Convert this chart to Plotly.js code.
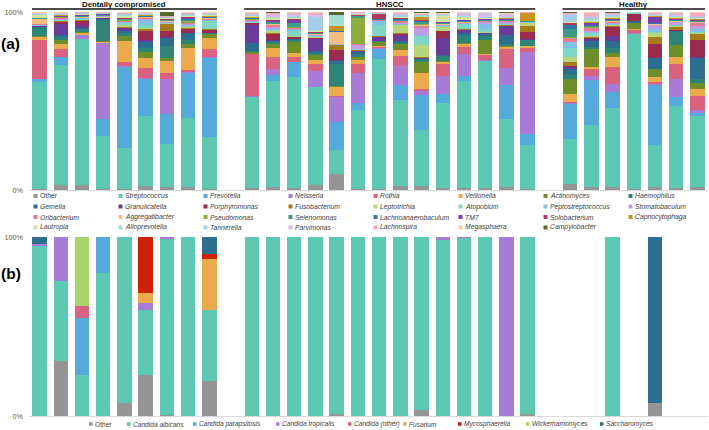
<!DOCTYPE html>
<html><head><meta charset="utf-8">
<script src="https://cdn.plot.ly/plotly-3.0.1.min.js"></script>
<style>html,body{margin:0;padding:0;background:#fff}#chart{width:709px;height:430px}</style>
</head><body><div id="chart"></div>
<script>
// ---------- DATA ----------
const groupDC = ["DC1","DC2","DC3","DC4","DC5","DC6","DC7","DC8","DC9"];
const groupHN = ["HN1","HN2","HN3","HN4","HN5","HN6","HN7","HN8","HN9","HN10","HN11","HN12","HN13","HN14"];
const groupHE = ["HE1","HE2","HE3","HE4","HE5","HE6","HE7"];
const groupNames = ["Dentally compromised","HNSCC","Healthy"];

const bacteriaNames = ["Other","Streptococcus","Prevotella","Neisseria","Rothia","Veillonella","Actinomyces","Haemophilus",
 "Gemella","Granulicatella","Porphyromonas","Fusobacterium","Leptotrichia","Atopobium","Peptostreptococcus","Stomatobaculum",
 "Oribacterium","Aggregatibacter","Pseudomonas","Selenomonas","Lachnoanaerobaculum","TM7","Solobacterium","Capnocytophaga",
 "Lautropia","Alloprevotella","Tannerella","Parvimonas","Lachnospira","Megasphaera","Campylobacter"];

// relative abundance (%) per sample: DC1-9, HN1-14, HE1-7
const bOther          = [0.3,2.8,2.8,0.5,0.5,2.2,1.5,1.9,0.5, 1,1.5,1.2,2.8,9,0.5,0.5,2.2,2.2,1,1,1,1.5,0.5, 3.4,1.9,1.9,0.5,1.9,1,1.9];
const bStreptococcus  = [62,69,84,30,23.6,40,25,39,30, 52,61,65,58,14,46,76,49,32.6,49,63,75,39,26, 27,36.5,45.5,88.8,24.7,48,40.4];
const bPrevotella     = [1.7,4.5,0.3,10,47,21,17,26,45.5, 0.3,3.4,8.4,0.3,16,4,6,9,20,5,2.8,0.3,20,6, 21,26,9,0.2,35.4,5,1.7];
const bNeisseria      = [0,0.5,2,43,0.3,0.3,20,0.3,0.3, 0.2,3.4,0.3,9,14.6,17,0.2,11,2.2,10.7,13,0.3,9.6,48, 0.3,2.8,4.5,0.1,0.2,10.7,1.7];
const bRothia         = [23,4.5,0.3,0.3,2.2,5.6,3,1.1,5, 24,7,2.8,4.5,0.3,5.6,1.1,5.6,1.1,6.7,4,2.8,11,2.2, 1.1,4,10,2.2,1.1,8.4,7.9];
const bVeillonella    = [1.7,2.8,1,0.7,12,6,7.3,12.4,6, 0.5,5,2.2,2.2,5.6,2.2,0.5,3.4,9.6,1.1,1.7,0.8,1.1,1.1, 4.5,1.1,5.6,0.2,3.4,4.5,4];
const bActinomyces    = [0.5,2.2,0.8,0.3,2.8,3.4,1.7,2.8,2.2, 0.8,2.2,6.7,2.8,0.3,1.5,2.2,3.4,6,0.3,0.3,8.4,0.6,0.3, 9,10.7,2.2,3.4,4.5,6.7,3.4];
const bHaemophilus    = [4.5,1.5,1.5,12,2.2,2,6.7,2,0.5, 0.5,1.2,1,1,13,1.2,0.3,0.6,1.7,3.4,5,2,1.2,3.4, 2.8,0.8,2.8,0.2,0.3,7.9,2.2];
const bGemella        = [0.8,1.5,0.8,0.8,1.1,3.5,4.5,4,0.3, 5,0.8,0.5,1.2,1.7,2.2,0.3,0.8,0.3,0.3,1.1,1.5,5,0.3, 3,3.4,4.5,1.1,6,0.3,12.4];
const bGranulicatella = [0.3,6.2,1.5,0.2,1.5,1,0.3,0.3,0.3, 10,0.5,0.3,7.3,0.2,0.3,2.2,3.4,0.3,9.6,1.5,0.3,5,0.2, 1,1.7,2.8,0.1,0.3,0.3,0.3];
const bPorphyromonas  = [0,1.1,2.5,0.2,0.3,5.5,3.4,2.2,1.7, 1,3.4,1,0.6,6,0.3,0.3,1.1,0.3,4,0.5,0.3,0.3,4, 1,0.5,5,4,8.4,0.3,10];
const bFusobacterium  = [0,0.5,0.3,0.1,0.3,1,4,0.5,0.3, 0.2,0.3,0.3,0.2,2.8,0.2,0.1,0.2,0.2,0.2,0.2,0.2,0.2,4, 2.5,0.3,0.5,0.1,4,2,3.4];
const bLeptotrichia   = [0,0.3,0.2,0.1,1.2,0.5,0.3,0.6,0.3, 0.2,1.2,0.4,0.3,0.1,0.2,0.2,4.5,7.3,2.5,0.3,0.3,0.3,1.5, 2.5,0.5,0.5,0.05,2,0.4,0.3];
const bAtopobium      = [0.3,0.3,0.5,0.3,1,1.5,0.3,0.5,4.5, 0.3,0.8,3,0.4,0.2,0.3,6.7,0.4,5,0.3,2.5,2,0.3,0.2, 5.5,2,0.5,0.05,0.8,0.4,0.5];
const bPeptostrep     = [0.3,0.3,0.3,0.2,0.5,3,0.3,0.5,0.3, 0.3,0.6,0.4,0.4,0.2,0.3,2.2,0.4,0.3,0.3,0.3,3,0.3,0.2, 3.5,0.5,0.5,0.05,1.5,0.4,2];
const bStomatobaculum = [0.2,0.3,0.2,0.1,0.3,0.3,0.3,0.5,0.3, 0.5,0.8,0.6,0.4,0.1,2.2,0.2,0.4,4.5,0.3,0.3,1,1,0.1, 0.3,0.8,0.5,0.05,2.5,1.2,1.5];
const bOribacterium   = [0.3,0.6,0.2,0.3,0.4,0.8,0.3,0.5,0.5, 0.5,1.2,0.6,0.3,0.2,0.3,0.2,1,0.8,0.3,0.5,0.3,0.3,0.1, 2.2,1.5,0.5,0.05,0.3,0.3,2];
const bAggregatibacter= [3,0.3,0.2,0.1,0.3,0.3,0.2,0.3,0.2, 0.2,0.4,0.3,0.2,6.7,0.2,0.1,0.2,0.8,0.2,0.2,0.2,0.2,0.1, 0.3,0.3,0.3,0.05,0.2,0.3,0.2];
const bPseudomonas    = [0.2,0.2,0.2,0.1,0.4,0.2,0.3,1.2,0.2, 0.2,0.3,0.4,0.3,0.1,15,0.1,0.3,0.2,0.3,0.2,0.2,0.2,0.1, 0.3,0.3,0.3,0.05,0.2,0.3,0.3];
const bSelenomonas    = [0.3,0.2,0.4,0.3,0.3,0.3,0.3,0.5,0.3, 0.2,0.8,2,0.3,0.2,1,0.2,0.4,1.7,0.3,0.5,0.3,0.3,0.1, 5,0.8,0.3,0.05,0.3,0.3,0.3];
const bLachnoanaero   = [0,0.2,0.3,0.2,0.2,0.2,0.2,0.2,0.2, 0.2,0.5,0.3,0.2,0.2,0.2,0.1,0.3,0.3,0.2,0.2,0.2,0.3,0.1, 2,0.3,0.3,0.05,0.3,0.3,0.3];
const bTM7            = [0.2,0.2,0.2,0.1,0.2,0.2,0.2,1,0.2, 0.2,0.4,2,0.2,0.1,0.2,0.2,0.3,0.2,0.2,0.2,0.2,0.3,0.1, 0.3,1.2,0.3,0.05,3.5,0.3,0.3];
const bSolobacterium  = [0,0.2,0.2,0.1,0.2,0.2,0.2,0.3,0.2, 0.2,0.3,0.3,0.2,0.2,0.5,2.8,0.2,0.6,0.2,0.2,0.2,0.2,0.1, 1,0.3,0.3,0.05,0.2,0.3,0.3];
const bCapnocytophaga = [0.2,0.2,0.2,0.1,0.2,0.2,0.3,0.2,0.4, 0.2,0.3,0.3,0.2,2.8,0.2,0.1,0.2,1.5,0.2,0.2,0.2,0.2,4.5, 0.3,0.3,0.3,0.05,0.2,0.3,0.3];
const bLautropia      = [1.5,0.3,0.3,0.2,1.2,0.2,0.3,0.5,0.3, 0.6,0.8,0.4,0.4,0.2,0.2,0.1,0.5,0.3,3.4,1.5,0.3,0.3,0.1, 0.3,0.5,1,0.05,0.3,0.8,0.3];
const bAlloprevotella = [0.5,0.3,0.4,0.2,0.8,0.3,0.3,0.5,0.6, 0.3,0.6,0.5,0.5,5.6,0.2,0.3,0.4,0.3,0.3,0.5,0.3,0.3,0.1, 0.5,1.2,0.5,0.05,0.3,0.3,0.5];
const bTannerella     = [0.3,0.3,0.3,0.2,0.3,0.3,0.3,0.4,0.3, 0.3,0.5,0.5,7.9,0.2,0.2,0.2,1,0.3,0.3,0.3,0.3,0.3,0.1, 4,0.5,0.3,0.05,0.3,0.5,0.3];
const bParvimonas     = [0.3,0.4,0.2,0.2,0.3,0.2,0.3,0.4,0.3, 0.8,0.8,1.5,1.2,0.1,0.2,0.2,0.6,0.3,0.3,1.5,2.5,1.5,0.1, 0.5,1.5,0.5,0.05,0.8,1.2,0.5];
const bLachnospira    = [0.3,0.4,0.2,0.2,0.5,0.5,0.5,0.5,0.4, 0.8,1.2,0.5,1.4,0.1,0.5,0.2,0.6,0.6,0.3,0.3,0.3,0.3,0.1, 0.5,1.8,0.5,0.05,0.5,0.5,2];
const bMegasphaera    = [0.2,0.2,0.1,0.1,0.2,0.2,0.2,0.2,0.2, 0.2,0.3,0.2,0.2,0.1,0.1,0.1,0.2,0.8,0.2,0.2,0.2,0.2,0.1, 0.3,0.3,0.3,0.05,0.2,0.2,0.2];
const bCampylobacter  = [0.1,0.1,0.1,0.1,0.2,0.1,2,0.2,0.1, 0.1,0.3,0.2,0.2,1.7,0.1,0.1,0.2,0.3,0.8,0.2,0.1,0.8,0.1, 0.3,0.2,0.5,0.05,0.2,0.2,0.2];

const fungiNames = ["Other","Candida albicans","Candida parapsilosis","Candida tropicalis","Candida (other)","Fusarium","Mycosphaerella","Wickerhamomyces","Saccharomyces"];
const fOther        = [0,31,0,0,7,23,0.7,0,19.7, 0,0,0,0,1.3,0,0,0,3.2,0,0,0,0,1.3, null,null,0,null,7.5,null,null];
const fAlbicans     = [95,44.5,23,80,93,36.3,98.2,100,39.3, 100,100,100,100,98.7,100,100,100,96.8,98.1,99.3,100,0,98.7, null,null,100,null,0,null,null];
const fParapsilosis = [0,0,32,20,0,0,0,0,0, 0,0,0,0,0,0,0,0,0,0,0,0,0,0, null,null,0,null,0,null,null];
const fTropicalis   = [1,24.5,0,0,0,3.4,1.1,0,0, 0,0,0,0,0,0,0,0,0,1.9,0.7,0,100,0, null,null,0,null,0,null,null];
const fCandidaOther = [0,0,6.4,0,0,0,0,0,0, 0,0,0,0,0,0,0,0,0,0,0,0,0,0, null,null,0,null,0,null,null];
const fFusarium     = [0,0,0,0,0,5.6,0,0,28.4, 0,0,0,0,0,0,0,0,0,0,0,0,0,0, null,null,0,null,0,null,null];
const fMyco         = [0,0,0,0,0,31.4,0,0,3, 0,0,0,0,0,0,0,0,0,0,0,0,0,0, null,null,0,null,0,null,null];
const fWicker       = [0,0,38.6,0,0,0,0,0,0, 0,0,0,0,0,0,0,0,0,0,0,0,0,0, null,null,0,null,0,null,null];
const fSacch        = [4,0,0,0,0,0,0,0,9.4, 0,0,0,0,0,0,0,0,0,0,0,0,0,0, null,null,0,null,92.5,null,null];

// ---------- STYLE ----------
const bacteriaColors = ["#959595","#5DC8B2","#56A9DB","#A77BD6","#D9627F","#EBAA4C","#6E8E2C","#2E8577",
 "#2B6E8F","#6B3B99","#9B2C50","#A77A1C","#B7D67A","#7FD6C4","#82C0E8","#C09CE3",
 "#E57D96","#F1BE7F","#8DAE3C","#3A9C85","#2D7BA8","#7A3FAF","#B03A5E","#C9921F",
 "#D3E2A2","#A3DDD0","#A4CDEA","#D4BDEE","#F0ABC0","#F5D3A5","#57692A"];
const fungiColors = ["#959595","#5DC8B2","#56A9DB","#A77BD6","#D9627F","#EBAA4C","#CC2200","#A8D46A","#2C6F8F"];

const bacteriaSeries = [bOther,bStreptococcus,bPrevotella,bNeisseria,bRothia,bVeillonella,bActinomyces,bHaemophilus,
 bGemella,bGranulicatella,bPorphyromonas,bFusobacterium,bLeptotrichia,bAtopobium,bPeptostrep,bStomatobaculum,
 bOribacterium,bAggregatibacter,bPseudomonas,bSelenomonas,bLachnoanaero,bTM7,bSolobacterium,bCapnocytophaga,
 bLautropia,bAlloprevotella,bTannerella,bParvimonas,bLachnospira,bMegasphaera,bCampylobacter];
const fungiSeries = [fOther,fAlbicans,fParapsilosis,fTropicalis,fCandidaOther,fFusarium,fMyco,fWicker,fSacch];

const samples = [...groupDC, ...groupHN, ...groupHE];
const cats = [...groupDC, "gap1", ...groupHN, "gap2", ...groupHE];

const W=709,H=430,ML=29,MR=1,MT=12,MB=14;
const PW=W-ML-MR, PH=H-MT-MB;
const px = x => (x-ML)/PW;
const py = y => (H-MB-y)/PH;

const traces = [];
bacteriaSeries.forEach((s,i)=>{
  traces.push({type:'bar', x:samples, y:s, name:bacteriaNames[i], marker:{color:bacteriaColors[i], line:{width:0}},
    xaxis:'x', yaxis:'y', showlegend:false, hoverinfo:'name+y'});
});
fungiSeries.forEach((s,i)=>{
  traces.push({type:'bar', x:samples, y:s, name:fungiNames[i], marker:{color:fungiColors[i], line:{width:0}},
    xaxis:'x2', yaxis:'y2', showlegend:false, hoverinfo:'name+y'});
});

const FONT = "Liberation Sans, Arial, sans-serif";
const annotations = [];
const shapes = [];

// panel labels
annotations.push({text:"<b>(a)</b>", xref:'paper', yref:'paper', x:px(0), y:py(44), xanchor:'left', yanchor:'middle', showarrow:false, font:{size:15.5, color:'#000'}, borderpad:0});
annotations.push({text:"<b>(b)</b>", xref:'paper', yref:'paper', x:px(0), y:py(273), xanchor:'left', yanchor:'middle', showarrow:false, font:{size:15.5, color:'#000'}, borderpad:0});

// group headers (top panel)
const groupSpans = [[0,8],[10,23],[25,31]];
groupSpans.forEach((g,i)=>{
  shapes.push({type:'line', xref:'x', yref:'paper', x0:g[0]-0.36, x1:g[1]+0.36, y0:py(9), y1:py(9), line:{color:'#111', width:1.5}});
  annotations.push({text:"<b>"+groupNames[i]+"</b>", xref:'x', yref:'paper', x:(g[0]+g[1])/2, y:py(9.5), xanchor:'center', yanchor:'bottom', showarrow:false, font:{size:7.8,color:'#111'}, borderpad:0});
});

// top legend (8 columns)
bacteriaNames.forEach((n,i)=>{
  const col=i%8, row=Math.floor(i/8);
  const mx = 33.5 + 85*col, my = 196 + 10.5*row;
  shapes.push({type:'rect', xref:'paper', yref:'paper', x0:px(mx), x1:px(mx+4), y0:py(my+2), y1:py(my-2), fillcolor:bacteriaColors[i], line:{width:0}});
  annotations.push({text: n==="Other" ? n : "<i>"+n+"</i>", xref:'paper', yref:'paper', x:px(mx+5.5), y:py(my), xanchor:'left', yanchor:'middle', showarrow:false, font:{size:6.8,color:'#404040'}, borderpad:0});
});

// bottom legend (single row)
const fungiLegendX = [89,127,193,276,348,403,458,526,600];
fungiNames.forEach((n,i)=>{
  const mx = fungiLegendX[i], my = 424;
  shapes.push({type:'rect', xref:'paper', yref:'paper', x0:px(mx), x1:px(mx+3.5), y0:py(my+1.8), y1:py(my-1.8), fillcolor:fungiColors[i], line:{width:0}});
  annotations.push({text: n==="Other" ? n : "<i>"+n+"</i>", xref:'paper', yref:'paper', x:px(mx+5), y:py(my), xanchor:'left', yanchor:'middle', showarrow:false, font:{size:6.6,color:'#404040'}, borderpad:0});
});

const xBase = {type:'category', categoryorder:'array', categoryarray:cats, range:[-0.5,31.5], showticklabels:false, ticks:'', showgrid:false, zeroline:false, showline:true, linecolor:'#d9d9d9', linewidth:1, fixedrange:true};
const yBase = {range:[0,100], tickvals:[0,100], ticktext:['0%','100%'], showgrid:false, zeroline:false, ticks:'', showline:false, tickfont:{size:7.2,color:'#595959'}, ticklabelstandoff:5, fixedrange:true};

const layout = {
  width:W, height:H, margin:{l:ML,r:MR,t:MT,b:MB,pad:0},
  paper_bgcolor:'#fff', plot_bgcolor:'#fff',
  font:{family:FONT, color:'#404040'},
  barmode:'stack', barnorm:'percent', bargap:0.32,
  xaxis:Object.assign({}, xBase, {anchor:'y'}),
  yaxis:Object.assign({}, yBase, {domain:[py(190),1], anchor:'x'}),
  xaxis2:Object.assign({}, xBase, {anchor:'y2'}),
  yaxis2:Object.assign({}, yBase, {domain:[0,py(237)], anchor:'x2'}),
  annotations, shapes, showlegend:false
};

Plotly.newPlot('chart', traces, layout, {staticPlot:true, displayModeBar:false});
</script>
</body></html>
